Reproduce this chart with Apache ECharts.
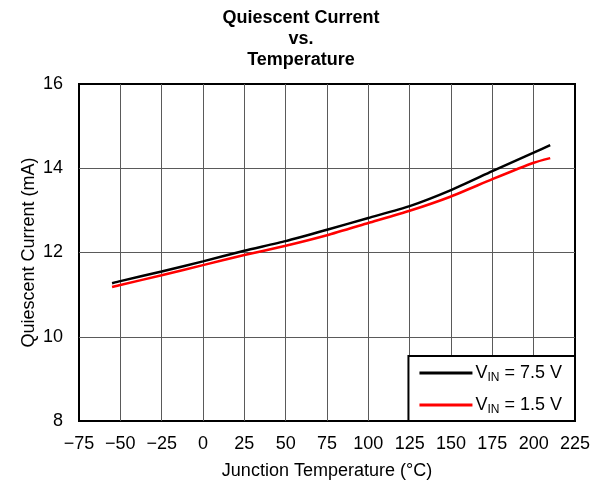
<!DOCTYPE html>
<html>
<head>
<meta charset="utf-8">
<script src="https://cdn.jsdelivr.net/npm/echarts@6/dist/echarts.min.js"></script>
<style>
html,body{margin:0;padding:0;background:#fff;}
#chart{width:602px;height:487px;}
</style>
</head>
<body>
<div id="chart"></div>
<script>
// Junction temperature (°C) sample points
const temperature = [-55, -50, -25, 0, 25, 50, 75, 100, 125, 150, 175, 200, 210];
// Quiescent current (mA) for each input voltage
const iqVin75 = [11.27, 11.32, 11.55, 11.79, 12.04, 12.27, 12.54, 12.82, 13.10, 13.48, 13.93, 14.37, 14.55];
const iqVin15 = [11.18, 11.23, 11.46, 11.70, 11.94, 12.16, 12.41, 12.70, 12.99, 13.33, 13.74, 14.13, 14.24];
const xTicks = [-75, 225, 25];
const yTicks = [8, 16, 2];

const font = 'Liberation Sans, Arial, sans-serif';
const pairs = (ys) => temperature.map((t, i) => [t, ys[i]]);

const chart = echarts.init(document.getElementById('chart'));
chart.setOption({
  animation: false,
  backgroundColor: '#fff',
  title: {
    text: 'Quiescent Current\nvs.\nTemperature',
    left: 'center', top: 3,
    textStyle: { fontFamily: font, fontSize: 18, fontWeight: 'bold', color: '#000', lineHeight: 21 }
  },
  grid: {
    left: 79, right: 27, top: 84, bottom: 66,
    show: true, borderColor: '#000', borderWidth: 2, backgroundColor: 'transparent'
  },
  legend: {
    orient: 'vertical', right: 27, bottom: 66,
    backgroundColor: '#fff', borderColor: '#000', borderWidth: 2,
    padding: [6, 13, 5, 11], itemGap: 10, itemWidth: 53, itemHeight: 3,
    icon: 'rect',
    data: ['v75', 'v15'],
    formatter: (n) => n === 'v75' ? '{a|V}{s|IN}{a| = 7.5 V}' : '{a|V}{s|IN}{a| = 1.5 V}',
    textStyle: {
      fontFamily: font, color: '#000', padding: [0, 0, 0, -2],
      rich: {
        a: { fontFamily: font, fontSize: 18, color: '#000', lineHeight: 22 },
        s: { fontFamily: font, fontSize: 12, color: '#000', verticalAlign: 'bottom', lineHeight: 22, padding: [10, 0, 0, 0] }
      }
    }
  },
  xAxis: {
    type: 'value', min: xTicks[0], max: xTicks[1], interval: xTicks[2],
    name: 'Junction Temperature (°C)', nameLocation: 'middle', nameGap: 41,
    nameTextStyle: { fontFamily: font, fontSize: 18, color: '#000' },
    axisLine: { show: false }, axisTick: { show: false },
    axisLabel: { fontFamily: font, fontSize: 18, color: '#000', margin: 14,
      formatter: (v) => v < 0 ? '\u2212' + Math.abs(v) : String(v) },
    splitLine: { show: true, showMinLine: false, showMaxLine: false, lineStyle: { color: '#5a5a5a', width: 1 } }
  },
  yAxis: {
    type: 'value', min: yTicks[0], max: yTicks[1], interval: yTicks[2],
    name: 'Quiescent Current (mA)', nameLocation: 'middle', nameGap: 41,
    nameMoveOverlap: false,
    nameTextStyle: { fontFamily: font, fontSize: 18, color: '#000' },
    axisLine: { show: false }, axisTick: { show: false },
    axisLabel: { fontFamily: font, fontSize: 18, color: '#000', margin: 16 },
    splitLine: { show: true, showMinLine: false, showMaxLine: false, lineStyle: { color: '#5a5a5a', width: 1 } }
  },
  series: [
    { name: 'v75', type: 'line', data: pairs(iqVin75), symbol: 'none', smooth: 0.2,
      lineStyle: { color: '#000', width: 2.5 }, itemStyle: { color: '#000' }, z: 3 },
    { name: 'v15', type: 'line', data: pairs(iqVin15), symbol: 'none', smooth: 0.2,
      lineStyle: { color: '#ff0000', width: 2.5 }, itemStyle: { color: '#ff0000' }, z: 4 }
  ]
});
</script>
</body>
</html>
